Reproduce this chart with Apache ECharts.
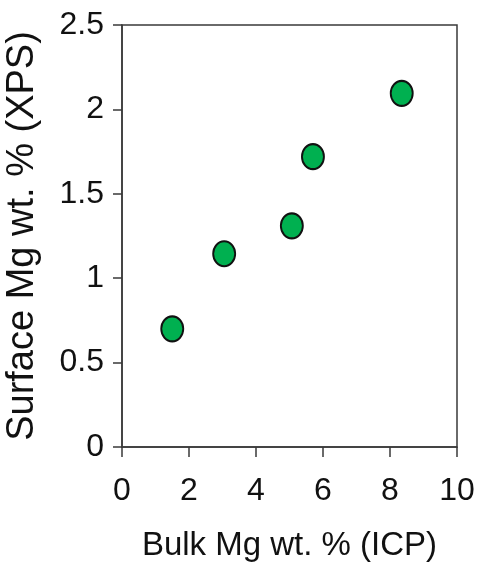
<!DOCTYPE html>
<html>
<head>
<meta charset="utf-8">
<script src="https://cdn.jsdelivr.net/npm/echarts@6/dist/echarts.min.js"></script>
<style>html,body{margin:0;padding:0;background:#fff}#c{width:479px;height:565px}</style>
</head>
<body>
<div id="c"></div>
<script>
const bulkMg = [1.5, 3.05, 5.07, 5.7, 8.35];
const surfaceMg = [0.70, 1.145, 1.31, 1.72, 2.095];
const xTicks = [0, 2, 4, 6, 8, 10];
const yTicks = [0, 0.5, 1, 1.5, 2, 2.5];
const xTitle = 'Bulk Mg wt. % (ICP)';
const yTitle = 'Surface Mg wt. % (XPS)';

const chart = echarts.init(document.getElementById('c'));
const lineCol = '#3a3a3a';
const ff = "'Liberation Sans', Arial, sans-serif";
chart.setOption({
  animation: false,
  grid: { left: 122, right: 22, top: 25, bottom: 118, containLabel: false, outerBoundsMode: 'none',
    show: true, borderColor: lineCol, borderWidth: 1.5, backgroundColor: 'transparent' },
  xAxis: {
    type: 'value', min: xTicks[0], max: xTicks[xTicks.length - 1], interval: 2,
    name: xTitle, nameLocation: 'middle', nameGap: 82,
    nameTextStyle: { fontFamily: ff, fontSize: 33, color: '#111' },
    axisLine: { show: true, onZero: false, lineStyle: { color: lineCol, width: 1.5 } },
    axisTick: { show: true, inside: false, length: 10, lineStyle: { color: lineCol, width: 1.5 } },
    axisLabel: { margin: 28, fontFamily: ff, fontSize: 32, color: '#111',
      formatter: v => String(v) },
    splitLine: { show: false }
  },
  yAxis: {
    type: 'value', min: yTicks[0], max: yTicks[yTicks.length - 1], interval: 0.5,
    name: yTitle, nameLocation: 'middle', nameGap: 80, nameRotate: 90,
    nameTextStyle: { fontFamily: ff, fontSize: 38, color: '#111' },
    axisLine: { show: true, onZero: false, lineStyle: { color: lineCol, width: 1.5 } },
    axisTick: { show: true, inside: false, length: 9, lineStyle: { color: lineCol, width: 1.5 } },
    axisLabel: { margin: 18, fontFamily: ff, fontSize: 32, color: '#111',
      formatter: v => String(v) },
    splitLine: { show: false }
  },
  series: [{
    type: 'scatter',
    data: bulkMg.map((x, i) => [x, surfaceMg[i]]),
    symbol: 'circle',
    symbolSize: [22, 25],
    itemStyle: { color: '#00B050', borderColor: '#111', borderWidth: 2, opacity: 1 }
  }]
});
</script>
</body>
</html>
